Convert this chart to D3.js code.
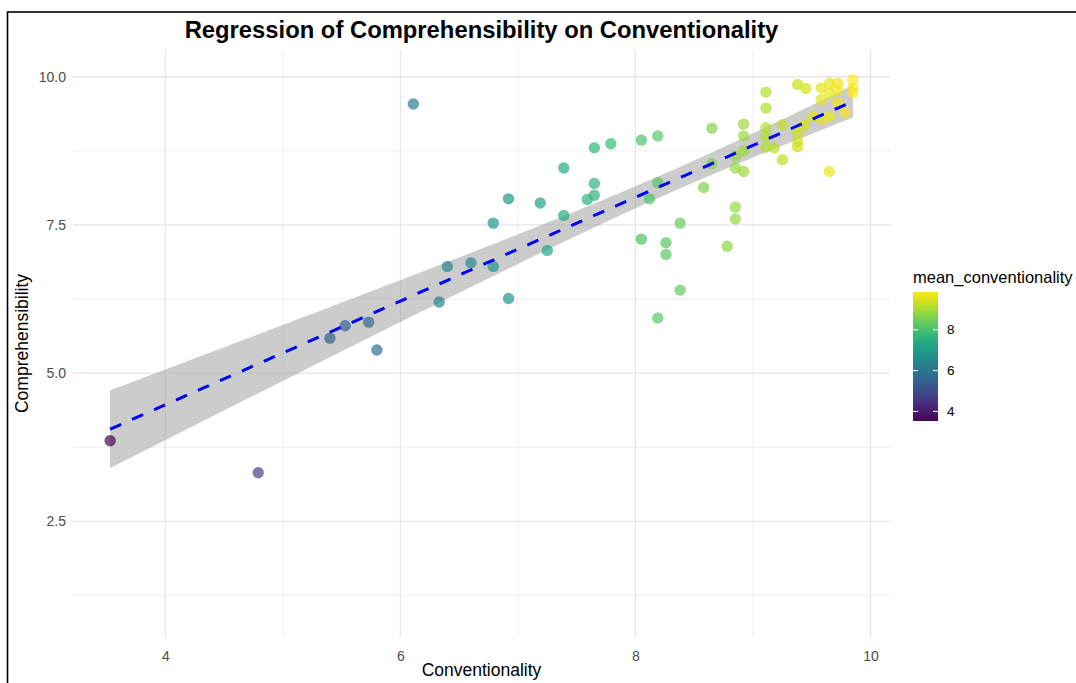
<!DOCTYPE html>
<html>
<head>
<meta charset="utf-8">
<script src="https://cdn.jsdelivr.net/npm/d3@7"></script>
<style>
  html, body { margin: 0; padding: 0; background: #fff; }
  text { font-family: "Liberation Sans", Arial, Helvetica, sans-serif; }
</style>
</head>
<body>
<svg id="chart" width="1076" height="683"></svg>
<script>
// Mean conventionality (x) and mean comprehensibility (y) per item
const conventionality = [
  3.53, 4.79, 6.11, 5.40, 5.53, 5.73, 5.80, 6.33, 6.40, 6.60,
  6.79, 6.79, 6.92, 6.92, 7.19, 7.25, 7.39, 7.39, 7.59, 7.65,
  7.65, 7.65, 7.79, 8.05, 8.05, 8.19, 8.19, 8.12, 8.26, 8.26,
  8.38, 8.38, 8.19, 8.58, 8.65, 8.65, 8.78, 8.85, 8.85, 8.85,
  8.85, 8.92, 8.92, 8.92, 8.92, 9.11, 9.11, 9.11, 9.11, 9.11,
  9.18, 9.25, 9.25, 9.38, 9.45, 9.38, 9.38, 9.38, 9.44, 9.51,
  9.58, 9.58, 9.58, 9.65, 9.65, 9.65, 9.65, 9.72, 9.72, 9.72,
  9.78, 9.85, 9.85, 9.85
];
const comprehensibility = [
  3.86, 3.32, 9.54, 5.59, 5.80, 5.86, 5.39, 6.20, 6.80, 6.86,
  6.80, 7.53, 7.94, 6.26, 7.87, 7.07, 8.46, 7.66, 7.93, 8.80,
  8.20, 8.00, 8.87, 8.93, 7.26, 9.00, 8.21, 7.94, 7.20, 7.00,
  7.53, 6.40, 5.93, 8.13, 9.13, 8.53, 7.14, 7.80, 7.60, 8.46,
  8.66, 9.20, 9.00, 8.75, 8.40, 9.74, 9.47, 9.14, 8.99, 8.81,
  8.80, 9.19, 8.60, 9.87, 9.80, 9.06, 8.91, 8.82, 9.19, 9.33,
  9.81, 9.61, 9.28, 9.89, 9.72, 9.33, 8.40, 9.89, 9.77, 9.56,
  9.40, 9.95, 9.81, 9.73
];
const xTicks = [4, 6, 8, 10];
const xMinorTicks = [5, 7, 9];
const yTicks = [2.5, 5.0, 7.5, 10.0];
const yMinorTicks = [1.25, 3.75, 6.25, 8.75];
const legendTicks = [4, 6, 8];

const titleText = "Regression of Comprehensibility on Conventionality";
const xTitle = "Conventionality";
const yTitle = "Comprehensibility";
const legendTitle = "mean_conventionality";

const svg = d3.select("#chart");
const panel = { left: 73, right: 890, top: 50, bottom: 637 };

const points = conventionality.map((x, i) => ({ x, y: comprehensibility[i] }));

// x: data range with 5% padding on each side
const xExt = d3.extent(conventionality);
const xPad = (xExt[1] - xExt[0]) * 0.05;
const x = d3.scaleLinear().domain([xExt[0] - xPad, xExt[1] + xPad]).range([panel.left, panel.right]);
// y: fixed limits 1..10 with 5% padding
const y = d3.scaleLinear().domain([1 - 0.45, 10 + 0.45]).range([panel.bottom, panel.top]);

const color = d3.scaleSequential(d3.interpolateViridis).domain(xExt);

// Outer frame
svg.append("rect")
  .attr("x", 7.5).attr("y", 12).attr("width", 1200).attr("height", 800)
  .attr("fill", "none").attr("stroke", "#000").attr("stroke-width", 1.6);

// Grid
const grid = svg.append("g");
grid.selectAll(".xminor").data(xMinorTicks).join("line")
  .attr("x1", d => x(d)).attr("x2", d => x(d))
  .attr("y1", panel.top).attr("y2", panel.bottom)
  .attr("stroke", "#ebebeb").attr("stroke-width", 0.8);
grid.selectAll(".yminor").data(yMinorTicks).join("line")
  .attr("x1", panel.left).attr("x2", panel.right)
  .attr("y1", d => y(d)).attr("y2", d => y(d))
  .attr("stroke", "#ebebeb").attr("stroke-width", 0.8);
grid.selectAll(".xmajor").data(xTicks).join("line")
  .attr("x1", d => x(d)).attr("x2", d => x(d))
  .attr("y1", panel.top).attr("y2", panel.bottom)
  .attr("stroke", "#e6e6e6").attr("stroke-width", 1.4);
grid.selectAll(".ymajor").data(yTicks).join("line")
  .attr("x1", panel.left).attr("x2", panel.right)
  .attr("y1", d => y(d)).attr("y2", d => y(d))
  .attr("stroke", "#e6e6e6").attr("stroke-width", 1.4);

// Linear fit with 95% confidence band
const n = points.length;
const mx = d3.mean(points, d => d.x), my = d3.mean(points, d => d.y);
const sxx = d3.sum(points, d => (d.x - mx) ** 2);
const sxy = d3.sum(points, d => (d.x - mx) * (d.y - my));
const slope = sxy / sxx, intercept = my - slope * mx;
const sse = d3.sum(points, d => (d.y - (intercept + slope * d.x)) ** 2);
const s = Math.sqrt(sse / (n - 2));
const df = n - 2, z = 1.959964;
const tq = z + (z ** 3 + z) / (4 * df) + (5 * z ** 5 + 16 * z ** 3 + 3 * z) / (96 * df * df);
const fit = d3.range(80).map(i => {
  const xv = xExt[0] + (xExt[1] - xExt[0]) * i / 79;
  const yv = intercept + slope * xv;
  const se = s * Math.sqrt(1 / n + (xv - mx) ** 2 / sxx);
  return { x: xv, y: yv, lo: yv - tq * se, hi: yv + tq * se };
});

svg.append("path").datum(fit)
  .attr("d", d3.area().x(d => x(d.x)).y0(d => y(d.lo)).y1(d => y(d.hi)))
  .attr("fill", "#999999").attr("fill-opacity", 0.5);

// Points
svg.append("g").selectAll("circle").data(points).join("circle")
  .attr("cx", d => x(d.x)).attr("cy", d => y(d.y)).attr("r", 5.7)
  .attr("fill", d => color(d.x)).attr("fill-opacity", 0.7);

// Fitted line
svg.append("path").datum(fit)
  .attr("d", d3.line().x(d => x(d.x)).y(d => y(d.y)))
  .attr("fill", "none").attr("stroke", "#0000ff").attr("stroke-width", 3)
  .attr("stroke-dasharray", "12,12");

// Axes labels
const xAxis = svg.append("g").attr("transform", `translate(0,${panel.bottom})`)
  .call(d3.axisBottom(x).tickValues(xTicks).tickFormat(d3.format("d")).tickSize(0).tickPadding(14));
xAxis.select(".domain").remove();
xAxis.selectAll("text").attr("font-size", 14).attr("fill", "#4d4d4d")
  .attr("font-family", "Liberation Sans, Arial, sans-serif");

const yAxis = svg.append("g").attr("transform", `translate(${panel.left},0)`)
  .call(d3.axisLeft(y).tickValues(yTicks).tickFormat(d3.format(".1f")).tickSize(0).tickPadding(7));
yAxis.select(".domain").remove();
yAxis.selectAll("text").attr("font-size", 14).attr("fill", "#4d4d4d")
  .attr("font-family", "Liberation Sans, Arial, sans-serif");

// Titles
svg.append("text").attr("x", (panel.left + panel.right) / 2).attr("y", 38)
  .attr("text-anchor", "middle").attr("font-size", 23.8).attr("font-weight", "bold")
  .attr("fill", "#000").text(titleText);
svg.append("text").attr("x", (panel.left + panel.right) / 2).attr("y", 676)
  .attr("text-anchor", "middle").attr("font-size", 17.5).attr("fill", "#000").text(xTitle);
svg.append("text").attr("transform", `translate(22,${(panel.top + panel.bottom) / 2}) rotate(-90)`)
  .attr("text-anchor", "middle").attr("dy", "0.35em").attr("font-size", 17.5).attr("fill", "#000").text(yTitle);

// Colour bar legend
const bar = { x: 913, y: 292, w: 25, h: 129 };
const defs = svg.append("defs");
const grad = defs.append("linearGradient").attr("id", "viridisBar")
  .attr("x1", 0).attr("y1", 1).attr("x2", 0).attr("y2", 0);
d3.range(21).forEach(i => {
  const t = i / 20;
  grad.append("stop").attr("offset", t).attr("stop-color", color(xExt[0] + t * (xExt[1] - xExt[0])));
});
const legend = svg.append("g");
legend.append("text").attr("x", bar.x).attr("y", 283).attr("font-size", 16.5).attr("fill", "#000").text(legendTitle);
legend.append("rect").attr("x", bar.x).attr("y", bar.y).attr("width", bar.w).attr("height", bar.h)
  .attr("fill", "url(#viridisBar)");
const ly = d3.scaleLinear().domain(xExt).range([bar.y + bar.h, bar.y]);
legendTicks.forEach(v => {
  legend.append("line").attr("x1", bar.x).attr("x2", bar.x + 5).attr("y1", ly(v)).attr("y2", ly(v))
    .attr("stroke", "#fff").attr("stroke-width", 1);
  legend.append("line").attr("x1", bar.x + bar.w - 5).attr("x2", bar.x + bar.w).attr("y1", ly(v)).attr("y2", ly(v))
    .attr("stroke", "#fff").attr("stroke-width", 1);
  legend.append("text").attr("x", bar.x + bar.w + 9).attr("y", ly(v)).attr("dy", "0.35em")
    .attr("font-size", 13.5).attr("fill", "#000").text(v);
});
</script>
</body>
</html>
